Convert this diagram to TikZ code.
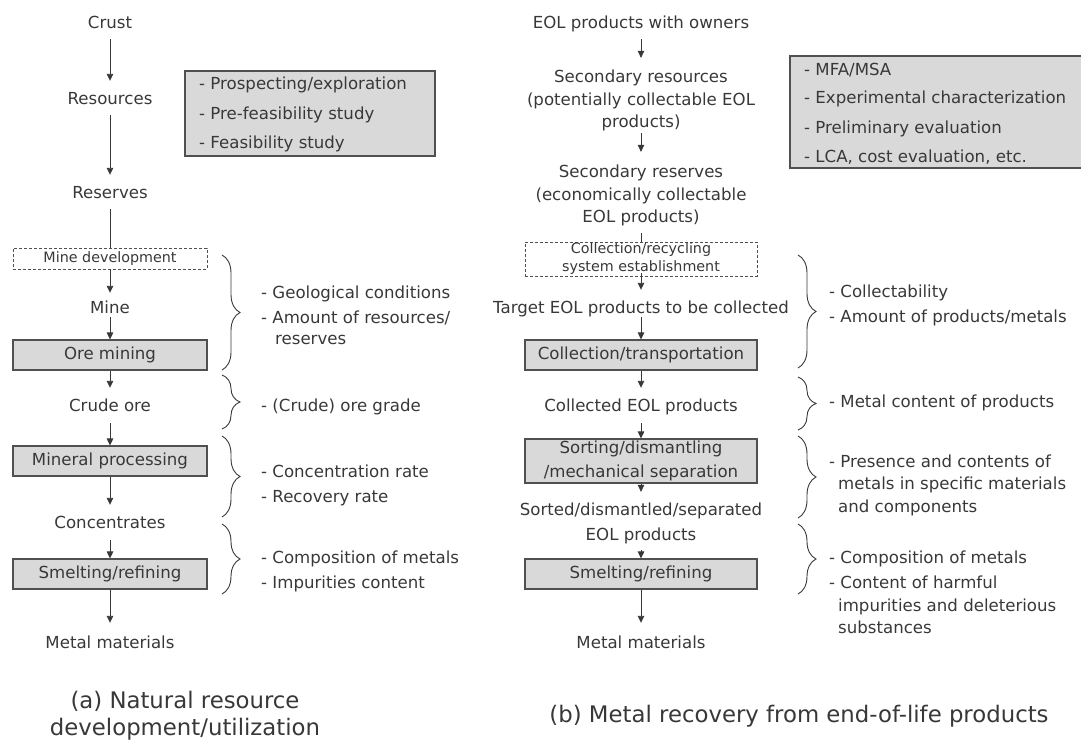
\documentclass[tikz,border=0pt]{standalone}
\usepackage{fontspec}
\setmainfont{DejaVu Sans}
\usetikzlibrary{arrows.meta,decorations.pathreplacing}
\definecolor{txt}{HTML}{383838}
\definecolor{boxfill}{HTML}{D9D9D9}
\definecolor{boxline}{HTML}{505050}
\newcommand{\mainf}{\fontsize{16.6bp}{22.5bp}\selectfont}
\newcommand{\smallf}{\fontsize{14.3bp}{18bp}\selectfont}
\newcommand{\capf}{\fontsize{22.8bp}{27bp}\selectfont}
\tikzset{
  lbl/.style={inner sep=0pt, text height=12.6bp, text depth=3.9bp, font=\mainf, text=txt},
  mlbl/.style={inner sep=0pt, align=center, font=\mainf, text=txt},
  capn/.style={inner sep=0pt, align=center, font=\capf, text=txt},
  procbox/.style={draw=boxline, fill=boxfill, line width=1.1bp, inner sep=0pt, minimum height=30bp, font=\mainf, text=txt},
  devbox/.style={draw=boxline, dashed, dash pattern=on 3bp off 2bp, line width=0.8bp, inner sep=0pt, font=\smallf, text=txt},
  notebox/.style={draw=boxline, fill=boxfill, line width=1.1bp, inner sep=0pt},
  side/.style={anchor=west, inner sep=0pt, text height=12.6bp, text depth=3.9bp, font=\mainf, text=txt},
  arr/.style={draw=txt, line width=0.9bp, -{Triangle[length=7bp,width=6.5bp]}},
  conn/.style={draw=txt, line width=0.9bp},
  brc/.style={draw=txt, line width=0.9bp, decorate, decoration={brace, amplitude=18bp}}
}
\begin{document}
\begin{tikzpicture}[x=1bp,y=-1bp]
\useasboundingbox (0,0) rectangle (1081,740);

% ---------------- left column ----------------
\node[lbl] (crust) at (110,24) {Crust};
\node[lbl] (res) at (110,100) {Resources};
\node[lbl] (resv) at (110,194) {Reserves};
\node[devbox, minimum width=194bp, minimum height=21bp] (mdev) at (110,258.5) {Mine development};
\node[lbl] (mine) at (110,309) {Mine};
\node[procbox, minimum width=194bp] (ore) at (110,355) {Ore mining};
\node[lbl] (crude) at (110,407) {Crude ore};
\node[procbox, minimum width=194bp] (minp) at (110,461) {Mineral processing};
\node[lbl] (conc) at (110,524) {Concentrates};
\node[procbox, minimum width=194bp] (smA) at (110,574) {Smelting/refining};
\node[lbl] (metA) at (110,644) {Metal materials};
\node[capn] (capA) at (185,716) {(a) Natural resource\\development/utilization};

\draw[arr, shorten <=6.75bp, shorten >=10.75bp] (crust.south) -- (res.north);
\draw[arr, shorten <=6.75bp, shorten >=10.75bp] (res.south) -- (resv.north);
\draw[conn, shorten <=6.75bp] (resv.south) -- (mdev.north);
\draw[arr, shorten >=7.75bp] (mdev.south) -- (mine.north);
\draw[arr] (mine.south) -- (ore.north);
\draw[arr, shorten >=10.75bp] (ore.south) -- (crude.north);
\draw[arr, shorten <=7.75bp] (crude.south) -- (minp.north);
\draw[arr, shorten >=10.75bp] (minp.south) -- (conc.north);
\draw[arr, shorten <=7.75bp] (conc.south) -- (smA.north);
\draw[arr, shorten >=12.75bp] (smA.south) -- (metA.north);

\node[notebox, minimum width=250bp, minimum height=85bp] (noteA) at (310,113.5) {};
\node[side] (nA1) at (199,85) {- Prospecting/exploration};
\node[side] (nA2) at (199,115) {- Pre-feasibility study};
\node[side] (nA3) at (199,144) {- Feasibility study};

\draw[brc] (222,255) -- (222,370);
\draw[brc] (222,375) -- (222,429);
\draw[brc] (222,436) -- (222,517);
\draw[brc] (222,524) -- (222,594);

\node[side] (gA1) at (261,294) {- Geological conditions};
\node[side] (gA2) at (261,319) {- Amount of resources/};
\node[side] (gA3) at (275,340) {reserves};
\node[side] (gA4) at (261,407) {- (Crude) ore grade};
\node[side] (gA5) at (261,473) {- Concentration rate};
\node[side] (gA6) at (261,498) {- Recovery rate};
\node[side] (gA7) at (261,559) {- Composition of metals};
\node[side] (gA8) at (261,584) {- Impurities content};

% ---------------- right column ----------------
\node[lbl] (eol) at (641,24) {EOL products with owners};
\node[mlbl] (sres) at (641,100.5) {Secondary resources\\(potentially collectable EOL\\products)};
\node[mlbl] (srsv) at (641,195.5) {Secondary reserves\\(economically collectable\\EOL products)};
\node[devbox, minimum width=232bp, minimum height=34bp, align=center] (cdev) at (641,259) {Collection/recycling\\system establishment};
\node[lbl] (targ) at (641,309) {Target EOL products to be collected};
\node[procbox, minimum width=232bp] (coltr) at (641,355) {Collection/transportation};
\node[lbl] (colp) at (641,407) {Collected EOL products};
\node[procbox, minimum width=232bp, minimum height=44bp, align=center, font=\fontsize{16.6bp}{24bp}\selectfont] (sort) at (641,461) {Sorting/dismantling\\/mechanical separation};
\node[mlbl, font=\fontsize{16.6bp}{25bp}\selectfont] (sorted) at (641,523.5) {Sorted/dismantled/separated\\EOL products};
\node[procbox, minimum width=232bp] (smB) at (641,574) {Smelting/refining};
\node[lbl] (metB) at (641,644) {Metal materials};
\node[capn] (capB) at (799,716.5) {(b) Metal recovery from end-of-life products};

\draw[arr, shorten <=6.75bp, shorten >=11.9bp] (eol.south) -- (sres.north);
\draw[arr, shorten <=2bp, shorten >=12.9bp] (sres.south) -- (srsv.north);
\draw[conn, shorten <=7bp] (srsv.south) -- (cdev.north);
\draw[arr, shorten <=-3bp, shorten >=10.75bp] (cdev.south) -- (targ.north);
\draw[arr] (targ.south) -- (coltr.north);
\draw[arr, shorten >=10.75bp] (coltr.south) -- (colp.north);
\draw[arr, shorten <=7.75bp] (colp.south) -- (sort.north);
\draw[arr, shorten >=10.9bp] (sort.south) -- (sorted.north);
\draw[arr, shorten <=6bp] (sorted.south) -- (smB.north);
\draw[arr, shorten >=12.75bp] (smB.south) -- (metB.north);

\node[notebox, minimum width=294bp, minimum height=112bp] (noteB) at (937,112) {};
\node[side] (nB1) at (804,71) {- MFA/MSA};
\node[side] (nB2) at (804,99) {- Experimental characterization};
\node[side] (nB3) at (804,129) {- Preliminary evaluation};
\node[side] (nB4) at (804,158) {- LCA, cost evaluation, etc.};

\draw[brc] (798,255) -- (798,368);
\draw[brc] (798,377) -- (798,430);
\draw[brc] (798,436) -- (798,518);
\draw[brc] (798,524) -- (798,594);

\node[side] (gB1) at (829,293) {- Collectability};
\node[side] (gB2) at (829,318) {- Amount of products/metals};
\node[side] (gB3) at (829,403) {- Metal content of products};
\node[side] (gB4) at (829,463) {- Presence and contents of};
\node[side] (gB5) at (838,485) {metals in specific materials};
\node[side] (gB6) at (838,508) {and components};
\node[side] (gB7) at (829,559) {- Composition of metals};
\node[side] (gB8) at (829,584) {- Content of harmful};
\node[side] (gB9) at (838,607) {impurities and deleterious};
\node[side] (gB10) at (838,629) {substances};
\end{tikzpicture}
\end{document}
